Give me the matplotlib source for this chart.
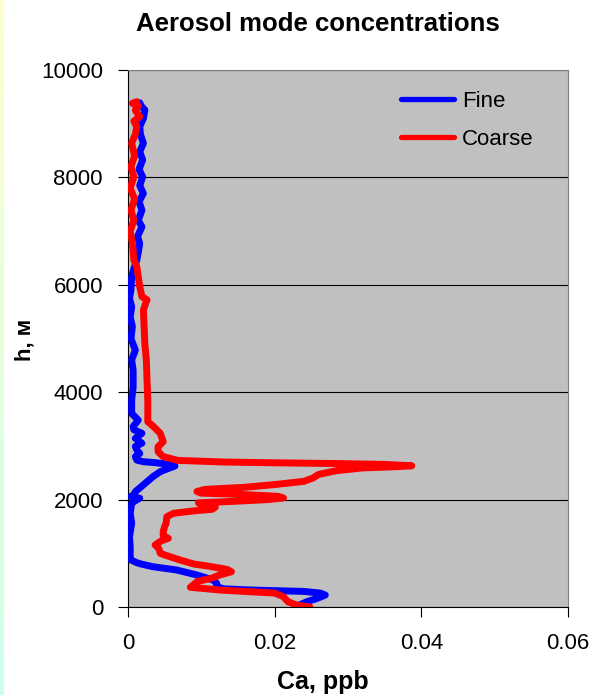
import numpy as np
import matplotlib
matplotlib.use('Agg')
import matplotlib.pyplot as plt

plt.rcParams['font.family'] = ['Liberation Sans', 'DejaVu Sans']

# Fine mode profile (altitude m, concentration ppb)
fine_h = [0, 25, 99, 160, 223, 260, 290, 305, 320, 340, 370, 410, 441, 503, 596, 690,
          750, 800, 825, 875, 935, 1000, 1120, 1300, 1560, 1745, 1930, 1980, 2025,
          2060, 2085, 2147, 2240, 2333, 2427, 2520, 2580, 2625, 2660, 2690, 2705,
          2735, 2800, 2860, 2925, 2990, 3050, 3140, 3235, 3300, 3360, 3480, 3605,
          3855, 4100, 4410, 4600, 4785, 5000, 5220, 5400, 5590, 5750, 5900, 6150,
          6300, 6460, 6600, 6770, 6900, 7080, 7200, 7390, 7550, 7700, 7850, 8010,
          8150, 8325, 8480, 8635, 8800, 8945, 9100, 9255, 9330, 9390]
fine_c = [0.0230, 0.0232, 0.0244, 0.0258, 0.0269, 0.0262, 0.0240, 0.0198, 0.0160,
          0.0130, 0.0123, 0.0121, 0.0121, 0.0116, 0.0094, 0.0066, 0.0034, 0.0018,
          0.0012, 0.0004, 0.0003, 0.0003, 0.0003, 0.0002, 0.0005, 0.0003, 0.0005,
          0.0010, 0.0016, 0.0004, 0.0008, 0.0010, 0.0018, 0.0026, 0.0034, 0.0044,
          0.0055, 0.0064, 0.0055, 0.0035, 0.0021, 0.0012, 0.0010, 0.0016, 0.0012,
          0.0010, 0.0019, 0.0010, 0.0019, 0.0008, 0.0007, 0.0014, 0.0005, 0.0005,
          0.0007, 0.0007, 0.0005, 0.0010, 0.0004, 0.0006, 0.0003, 0.0005, 0.0002,
          0.0004, 0.0005, 0.0008, 0.0012, 0.0014, 0.0016, 0.0013, 0.0019, 0.0014,
          0.0019, 0.0015, 0.0021, 0.0016, 0.0020, 0.0015, 0.0020, 0.0016, 0.0021,
          0.0017, 0.0016, 0.0021, 0.0023, 0.0018, 0.0016]

# Coarse mode profile (altitude m, concentration ppb)
coarse_h = [0, 37, 99, 192, 260, 285, 317, 367, 420, 472, 540, 596, 657, 700, 760,
            800, 875, 960, 1000, 1090, 1155, 1230, 1279, 1330, 1403, 1500, 1559,
            1682, 1745, 1790, 1820, 1860, 1900, 1940, 1965, 2000, 2030, 2060, 2100,
            2120, 2150, 2190, 2230, 2280, 2340, 2400, 2470, 2540, 2590, 2615, 2630,
            2655, 2670, 2685, 2700, 2730, 2800, 2892, 2985, 3078, 3235, 3357, 3451,
            3600, 3850, 4200, 4600, 4900, 5220, 5530, 5650, 5720, 5780, 5965, 6150,
            6340, 6460, 6770, 7000, 7200, 7390, 7600, 7800, 8010, 8200, 8400, 8635,
            8800, 8945, 9050, 9130, 9250, 9330, 9380, 9410]
coarse_c = [0.0248, 0.0230, 0.0218, 0.0212, 0.0200, 0.0165, 0.0125, 0.0085, 0.0090,
            0.0094, 0.0115, 0.0125, 0.0141, 0.0135, 0.0110, 0.0090, 0.0071, 0.0052,
            0.0044, 0.0042, 0.0037, 0.0045, 0.0055, 0.0048, 0.0048, 0.0050, 0.0052,
            0.0053, 0.0062, 0.0090, 0.0115, 0.0119, 0.0100, 0.0096, 0.0140, 0.0190,
            0.0212, 0.0205, 0.0150, 0.0100, 0.0094, 0.0105, 0.0160, 0.0200, 0.0240,
            0.0252, 0.0260, 0.0285, 0.0320, 0.0370, 0.0387, 0.0350, 0.0290, 0.0200,
            0.0130, 0.0068, 0.0048, 0.0041, 0.0041, 0.0048, 0.0044, 0.0035, 0.0027,
            0.0027, 0.0027, 0.0026, 0.0025, 0.0023, 0.0022, 0.0021, 0.0024, 0.0026,
            0.0019, 0.0016, 0.0014, 0.0012, 0.0008, 0.0006, 0.0003, 0.0008, 0.0004,
            0.0009, 0.0003, 0.0008, 0.0004, 0.0009, 0.0005, 0.0010, 0.0012, 0.0008,
            0.0016, 0.0010, 0.0014, 0.0006, 0.0012]

x_ticks = [0, 0.02, 0.04, 0.06]
x_labels = ['0', '0.02', '0.04', '0.06']
y_ticks = [0, 2000, 4000, 6000, 8000, 10000]

fig = plt.figure(figsize=(5.98, 6.95), dpi=100)

# thin gradient strip on left edge
strip = fig.add_axes([0, 0, 4 / 598, 1])
grad = np.linspace(0, 1, 256)[:, None]
top_col = np.array([1.0, 1.0, 0.80])
bot_col = np.array([0.80, 1.0, 0.92])
img = top_col[None, None, :] * (1 - grad[:, :, None]) + bot_col[None, None, :] * grad[:, :, None]
strip.imshow(img, aspect='auto', extent=[0, 1, 0, 1])
strip.axis('off')

ax = fig.add_axes([128 / 598, 88 / 695, 440 / 598, 537 / 695])
ax.set_facecolor('#C0C0C0')
ax.plot(fine_c, fine_h, color='#0000FF', lw=5, solid_joinstyle='round',
        solid_capstyle='round', label='Fine', zorder=3)
ax.plot(coarse_c, coarse_h, color='#FF0000', lw=5, solid_joinstyle='round',
        solid_capstyle='round', label='Coarse', zorder=4)

ax.set_xlim(0, 0.06)
ax.set_ylim(0, 10000)
ax.set_xticks(x_ticks)
ax.set_xticklabels(x_labels)
ax.set_yticks(y_ticks)
ax.yaxis.grid(True, color='black', lw=0.8)
ax.set_axisbelow(True)
ax.tick_params(axis='both', direction='out', length=7, width=0.8, labelsize=16, pad=11)
ax.tick_params(axis='x', pad=12)
for s in ['top', 'right']:
    ax.spines[s].set_color('#808080')
for s in ['left', 'bottom']:
    ax.spines[s].set_color('black')

leg = ax.legend(loc='upper left', bbox_to_anchor=(0.585, 0.99), frameon=False,
                fontsize=16, handlelength=2.4, handletextpad=0.35, labelspacing=0.75,
                borderpad=0.2)
for line in leg.get_lines():
    line.set_linewidth(3.8)

fig.text(318 / 598, 1 - 31 / 695, 'Aerosol mode concentrations', ha='center',
         va='baseline', fontsize=18.5, fontweight='bold')
fig.text(323 / 598, 1 - 682 / 695, 'Ca, ppb', ha='center', va='center',
         fontsize=18, fontweight='bold')
fig.text(25 / 598, 1 - 340 / 695, 'h, м', ha='center', va='center', rotation=90,
         fontsize=16, fontweight='bold')

fig.savefig('out.png', dpi=100, facecolor='white')
